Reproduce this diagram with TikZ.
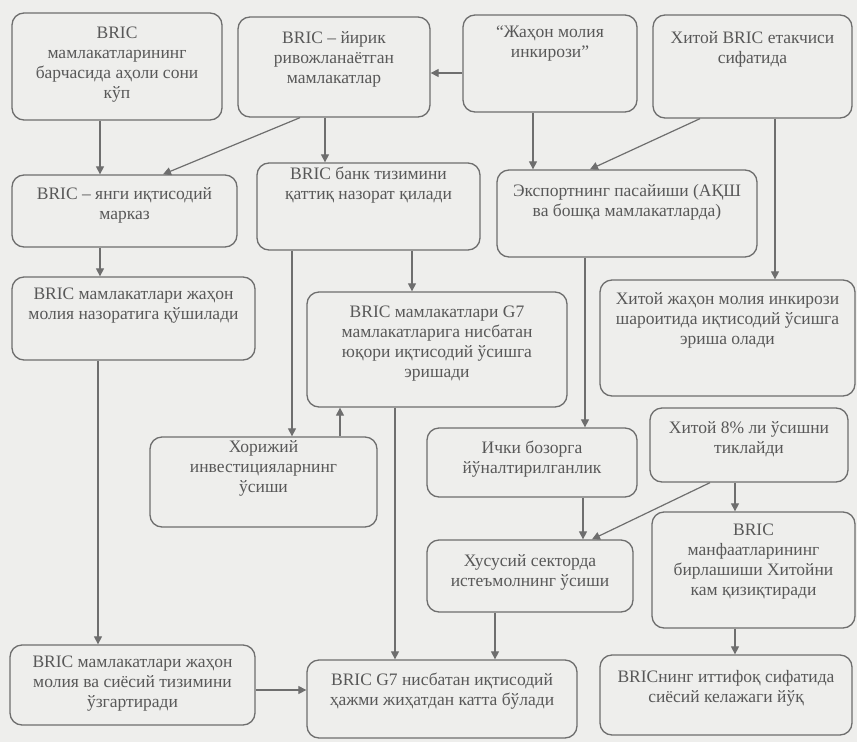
\documentclass[tikz,border=0pt]{standalone}
\usepackage{fontspec}
\setmainfont{Liberation Serif}
\usetikzlibrary{arrows.meta}
\definecolor{bg}{RGB}{238,238,236}
\definecolor{ln}{RGB}{110,110,110}
\definecolor{tx}{RGB}{88,88,88}
\tikzset{
  box/.style={draw=ln, line width=1.3pt, rounded corners=12pt, fill=bg, inner sep=0pt},
  txt/.style={text=tx, align=center, font=\fontsize{17.5}{20}\selectfont, inner sep=0pt},
  arr/.style={draw=ln, line width=1.2pt, -{Triangle[length=8pt,width=8pt]}},
}
\newcommand\drawbox[7]{%
  \node[box, minimum width={#4-#2}, minimum height={#5-#3}] (#1) at ({(#2+#4)/2},{(#3+#5)/2}) {};
  \node[txt] (#1t) at ({(#2+#4)/2},#6) {#7};}
\begin{document}
\begin{tikzpicture}[x=1pt,y=-1pt]
\fill[bg] (0,0) rectangle (857,742);
\useasboundingbox (0,0) rectangle (857,742);

\drawbox{A}{12}{13}{222}{120}{65}{BRIC\\мамлакатларининг\\барчасида аҳоли сони\\кўп}
\drawbox{B}{238}{17}{430}{117}{59}{BRIC – йирик\\ривожланаётган\\мамлакатлар}
\drawbox{C}{463}{15}{637}{112}{44}{“Жаҳон молия\\инкирози”}
\drawbox{D}{653}{15}{852}{118}{49}{Хитой BRIC етакчиси\\сифатида}
\drawbox{E}{12}{175}{237}{247}{205}{BRIC – янги иқтисодий\\марказ}
\drawbox{F}{257}{163}{480}{250}{185}{BRIC банк тизимини\\қаттиқ назорат қилади}
\drawbox{G}{497}{170}{757}{257}{202}{Экспортнинг пасайиши (АҚШ\\ва бошқа мамлакатларда)}
\drawbox{H}{12}{277}{255}{360}{306}{BRIC мамлакатлари жаҳон\\молия назоратига қўшилади}
\drawbox{I}{307}{292}{567}{407}{344}{BRIC мамлакатлари G7\\мамлакатларига нисбатан\\юқори иқтисодий ўсишга\\эришади}
\drawbox{J}{600}{280}{855}{396}{320}{Хитой жаҳон молия инкирози\\шароитида иқтисодий ўсишга\\эриша олади}
\drawbox{K}{150}{437}{377}{527}{468}{Хорижий\\инвестицияларнинг\\ўсиши}
\drawbox{L}{427}{428}{637}{497}{459}{Ички бозорга\\йўналтирилганлик}
\drawbox{M}{650}{408}{848}{482}{439}{Хитой 8\% ли ўсишни\\тиклайди}
\drawbox{N}{427}{540}{633}{612}{572}{Хусусий секторда\\истеъмолнинг ўсиши}
\drawbox{O}{652}{512}{855}{628}{562}{BRIC\\манфаатларининг\\бирлашиши Хитойни\\кам қизиқтиради}
\drawbox{P}{10}{645}{255}{725}{684}{BRIC мамлакатлари жаҳон\\молия ва сиёсий тизимини\\ўзгартиради}
\drawbox{Q}{307}{660}{577}{738}{691}{BRIC G7 нисбатан иқтисодий\\ҳажми жиҳатдан катта бўлади}
\drawbox{R}{600}{655}{852}{735}{688}{BRICнинг иттифоқ сифатида\\сиёсий келажаги йўқ}

\draw[arr] (100,0 |- A.south) -- (100,0 |- E.north);
\draw[arr] (300,0 |- B.south) -- (163,0 |- E.north);
\draw[arr] (325,0 |- B.south) -- (325,0 |- F.north);
\draw[arr] (C.west |- 0,73) -- (B.east |- 0,73);
\draw[arr] (533,0 |- C.south) -- (533,0 |- G.north);
\draw[arr] (700,0 |- D.south) -- (590,0 |- G.north);
\draw[arr] (775,0 |- D.south) -- (775,0 |- J.north);
\draw[arr] (100,0 |- E.south) -- (100,0 |- H.north);
\draw[arr] (292,0 |- F.south) -- (292,0 |- K.north);
\draw[arr] (412,0 |- F.south) -- (412,0 |- I.north);
\draw[arr] (585,0 |- G.south) -- (585,0 |- L.north);
\draw[arr] (98,0 |- H.south) -- (98,0 |- P.north);
\draw[arr] (340,0 |- K.north) -- (340,0 |- I.south);
\draw[arr] (395,0 |- I.south) -- (395,0 |- Q.north);
\draw[arr] (583,0 |- L.south) -- (583,0 |- N.north);
\draw[arr] (710,0 |- M.south) -- (592,0 |- N.north);
\draw[arr] (735,0 |- M.south) -- (735,0 |- O.north);
\draw[arr] (495,0 |- N.south) -- (495,0 |- Q.north);
\draw[arr] (735,0 |- O.south) -- (735,0 |- R.north);
\draw[arr] (P.east |- 0,690) -- (Q.west |- 0,690);
\end{tikzpicture}
\end{document}
